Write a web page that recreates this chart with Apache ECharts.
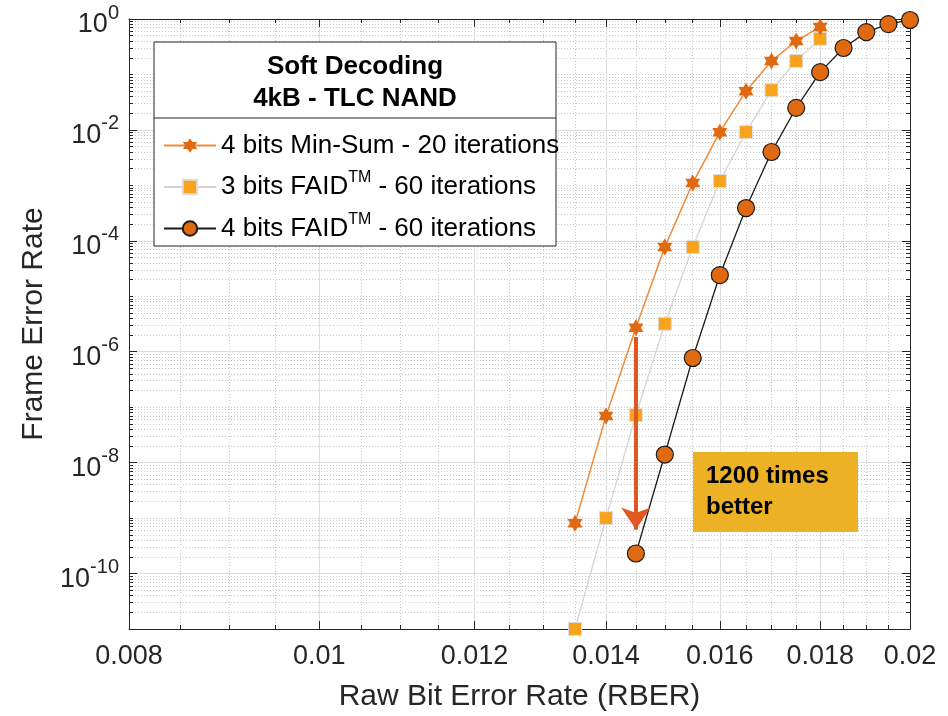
<!DOCTYPE html>
<html>
<head>
<meta charset="utf-8">
<script src="https://cdn.jsdelivr.net/npm/echarts@6/dist/echarts.min.js"></script>
<style>
html, body { margin: 0; padding: 0; background: #fff; }
#chart { width: 948px; height: 716px; }
</style>
</head>
<body>
<div id="chart"></div>
<script>
// values (RBER -> frame error rate)
var minSumRber = [0.0135, 0.014, 0.0145, 0.015, 0.0155, 0.016, 0.0165, 0.017, 0.0175, 0.018];
var minSumFer  = [8.1e-10, 6.9e-8, 2.7e-6, 7.7e-5, 1.1e-3, 9.1e-3, 0.050, 0.175, 0.40, 0.72];
var faid3Rber  = [0.0135, 0.014, 0.0145, 0.015, 0.0155, 0.016, 0.0165, 0.017, 0.0175, 0.018];
var faid3Fer   = [1.0e-11, 1.0e-9, 7.2e-8, 3.2e-6, 7.7e-5, 1.2e-3, 9.1e-3, 0.052, 0.175, 0.44];
var faid4Rber  = [0.0145, 0.015, 0.0155, 0.016, 0.0165, 0.017, 0.0175, 0.018, 0.0185, 0.019, 0.0195, 0.02];
var faid4Fer   = [2.3e-10, 1.4e-8, 7.7e-7, 2.4e-5, 3.9e-4, 4.0e-3, 0.025, 0.11, 0.30, 0.58, 0.81, 0.96];

var seriesNames = ['4 bits Min-Sum - 20 iterations', '3 bits FAID - 60 iterations', '4 bits FAID - 60 iterations'];
var legendTitle = ['Soft Decoding', '4kB - TLC NAND'];
var noteText = ['1200 times', 'better'];

// arrow annotation: from the min-sum point down to the 4 bit FAID level
var arrowRber = 0.0145;
var arrowFer = [1.85e-6, 6.2e-10];

var xMajorTicks = [0.008, 0.01, 0.012, 0.014, 0.016, 0.018, 0.02];
var xTickLabels = ['0.008', '0.01', '0.012', '0.014', '0.016', '0.018', '0.02'];
var xMinorTicks = [0.0085, 0.009, 0.0095, 0.0105, 0.011, 0.0115, 0.0125, 0.013, 0.0135,
                   0.0145, 0.015, 0.0155, 0.0165, 0.017, 0.0175, 0.0185, 0.019, 0.0195];
var yMajorTicks = [1e-10, 1e-8, 1e-6, 1e-4, 1e-2, 1];
var yMinorTicks = [];
for (var e = -11; e < 0; e++) {
    for (var m = 1; m < 10; m++) {
        if (m === 1 && e % 2 === 0) continue;
        yMinorTicks.push(m * Math.pow(10, e));
    }
}

var FONT = 'Liberation Sans';
var AX = '#262626';
var HEXAGRAM = 'path://M0,-100 L28.9,-50 L86.6,-50 L57.7,0 L86.6,50 L28.9,50 L0,100 L-28.9,50 L-86.6,50 L-57.7,0 L-86.6,-50 L-28.9,-50 Z';

function pairs(xs, ys) {
    return xs.map(function (x, i) { return [x, ys[i]]; });
}

function xAxisDef(pos, ticks, len, labels, grid, lineShow) {
    return {
        type: 'log', logBase: 10, min: 0.008, max: 0.02, position: pos,
        axisLine: { show: lineShow, lineStyle: { color: AX, width: 1 } },
        axisTick: { show: true, inside: true, length: len, customValues: ticks, lineStyle: { color: AX, width: 1 } },
        axisLabel: labels ? {
            customValues: xMajorTicks, margin: 14, color: AX,
            fontFamily: FONT, fontSize: 27,
            formatter: function (v) {
                var best = 0;
                xMajorTicks.forEach(function (t, i) {
                    if (Math.abs(t - v) < Math.abs(xMajorTicks[best] - v)) best = i;
                });
                return xTickLabels[best];
            }
        } : { show: false },
        splitLine: grid ? { show: true, lineStyle: grid } : { show: false },
        name: labels ? 'Raw Bit Error Rate (RBER)' : '',
        nameLocation: 'middle', nameGap: 53,
        nameTextStyle: { fontFamily: FONT, fontSize: 30, color: AX }
    };
}

function yAxisDef(pos, ticks, len, labels, grid, lineShow) {
    return {
        type: 'log', logBase: 10, min: 1e-11, max: 1, position: pos,
        axisLine: { show: lineShow, lineStyle: { color: AX, width: 1 } },
        axisTick: { show: true, inside: true, length: len, customValues: ticks, lineStyle: { color: AX, width: 1 } },
        axisLabel: labels ? {
            customValues: yMajorTicks, margin: 10, color: AX,
            formatter: function (v) {
                return '{b|10}{s|' + Math.round(Math.log10(v)) + '}';
            },
            rich: {
                b: { fontFamily: FONT, fontSize: 27, color: AX, padding: [12, 0, 0, 0] },
                s: { fontFamily: FONT, fontSize: 20, color: AX, padding: [0, 0, 12, 0] }
            }
        } : { show: false },
        splitLine: grid ? { show: true, lineStyle: grid } : { show: false },
        name: labels ? 'Frame Error Rate' : '',
        nameLocation: 'middle', nameGap: 77,
        nameTextStyle: { fontFamily: FONT, fontSize: 30, color: AX }
    };
}

var majorGrid = { color: '#dcdcdc', width: 1, type: 'solid' };
var minorGrid = { color: '#c9c9c9', width: 1, type: [1, 2] };

var chart = echarts.init(document.getElementById('chart'));
var option = {
    backgroundColor: '#fff',
    animation: false,
    grid: { left: 129, right: 38, top: 19, bottom: 87, containLabel: false, outerBoundsMode: 'none' },
    xAxis: [
        xAxisDef('bottom', xMinorTicks, 4, false, minorGrid, false),
        xAxisDef('bottom', xMajorTicks, 8, true, majorGrid, true),
        xAxisDef('top', xMinorTicks, 4, false, null, false),
        xAxisDef('top', xMajorTicks, 8, false, null, true)
    ],
    yAxis: [
        yAxisDef('left', yMinorTicks, 4, false, minorGrid, false),
        yAxisDef('left', yMajorTicks, 8, true, majorGrid, true),
        yAxisDef('right', yMinorTicks, 4, false, null, false),
        yAxisDef('right', yMajorTicks, 8, false, null, true)
    ],
    legend: {
        orient: 'vertical', left: 158, top: 124,
        itemWidth: 52, itemHeight: 18, itemGap: 8,
        data: seriesNames,
        formatter: function (name) {
            return name.replace('FAID', 'FAID{sup|TM}');
        },
        textStyle: {
            fontFamily: FONT, fontSize: 26, color: '#000', lineHeight: 33,
            rich: { sup: { fontFamily: FONT, fontSize: 16, color: '#000', padding: [0, 0, 18, 0] } }
        },
        z: 6
    },
    graphic: [
        { type: 'rect', shape: { x: 154, y: 42, width: 402, height: 204 }, style: { fill: '#fff', stroke: AX, lineWidth: 1 }, z: 5, silent: true },
        { type: 'line', shape: { x1: 154, y1: 118, x2: 556, y2: 118 }, style: { stroke: AX, lineWidth: 1 }, z: 5, silent: true },
        { type: 'text', x: 355, y: 83, z: 6, silent: true,
          style: { text: legendTitle.join('\n'), textAlign: 'center', textVerticalAlign: 'middle', lineHeight: 32,
                   fill: '#000', font: 'bold 26px "' + FONT + '"' } },
        { type: 'rect', shape: { x: 693, y: 452, width: 165, height: 80 }, style: { fill: '#ecb125' }, z: 5, silent: true },
        { type: 'text', x: 706, y: 492, z: 6, silent: true,
          style: { text: noteText.join('\n'), textAlign: 'left', textVerticalAlign: 'middle', lineHeight: 31,
                   fill: '#000', font: 'bold 24px "' + FONT + '"' } }
    ],
    series: [
        {
            name: seriesNames[1], type: 'line', xAxisIndex: 1, yAxisIndex: 1,
            data: pairs(faid3Rber, faid3Fer), clip: false,
            symbol: 'rect', symbolSize: 13,
            lineStyle: { color: '#d4d4d4', width: 1.3 },
            itemStyle: { color: '#f9a21b', borderColor: '#dedede', borderWidth: 1 },
            emphasis: { disabled: true }, z: 3
        },
        {
            name: seriesNames[0], type: 'line', xAxisIndex: 1, yAxisIndex: 1,
            data: pairs(minSumRber, minSumFer), clip: false,
            symbol: HEXAGRAM, symbolSize: [15, 17],
            lineStyle: { color: '#f08a38', width: 1.5 },
            itemStyle: { color: '#e06a12', borderWidth: 0 },
            emphasis: { disabled: true }, z: 4,
            markLine: {
                silent: true, animation: false,
                symbol: ['none', 'arrow'], symbolSize: 22,
                label: { show: false },
                lineStyle: { color: '#e2571f', width: 4, type: 'solid' },
                data: [[{ coord: [arrowRber, arrowFer[0]] }, { coord: [arrowRber, arrowFer[1]] }]]
            }
        },
        {
            name: seriesNames[2], type: 'line', xAxisIndex: 1, yAxisIndex: 1,
            data: pairs(faid4Rber, faid4Fer), clip: false,
            symbol: 'circle', symbolSize: 17,
            lineStyle: { color: '#1a1a1a', width: 1.3 },
            itemStyle: { color: '#e06a12', borderColor: '#1a1a1a', borderWidth: 1.2 },
            emphasis: { disabled: true }, z: 4
        }
    ]
};
chart.setOption(option);
</script>
</body>
</html>
